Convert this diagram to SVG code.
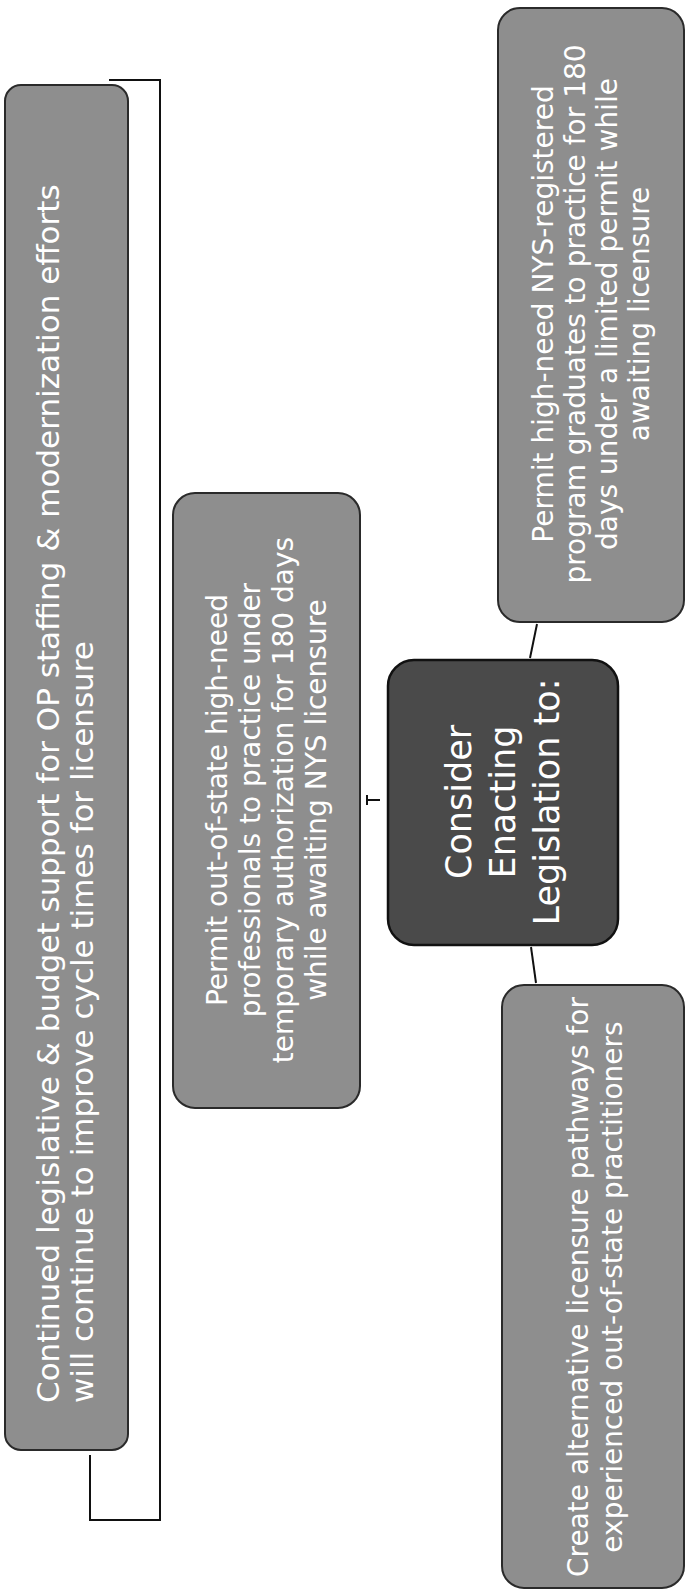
<svg xmlns="http://www.w3.org/2000/svg" width="685" height="1591" viewBox="0 0 685 1591">
<style>
.box{fill:#8e8e8e;stroke:#2a2a2a;stroke-width:2}
.dark{fill:#4a4a4a;stroke:#111;stroke-width:2.5}
.t{font-family:"DejaVu Sans",Verdana,sans-serif;fill:#fff;dominant-baseline:central}
.c{text-anchor:middle}
.conn{fill:none;stroke:#111;stroke-width:2}
</style>
<rect width="685" height="1591" fill="#fff"/>
<g id="connectors">
<path class="conn" d="M109,80 H160 V1520 H90 V1455"/>
<line class="conn" x1="537" y1="624" x2="530" y2="658"/>
<line class="conn" x1="531" y1="947" x2="536" y2="983"/>
<line class="conn" x1="367" y1="800" x2="380" y2="800"/>
<line class="conn" x1="367" y1="795" x2="367" y2="805"/>
</g>
<g id="node-left">
<rect class="box" x="5" y="85" width="123" height="1365" rx="16"/>
<text class="t" font-size="31" transform="translate(65,1403) rotate(-90)"><tspan x="0" y="-17">Continued legislative &amp; budget support for OP staffing &amp; modernization efforts</tspan><tspan x="0" y="17">will continue to improve cycle times for licensure</tspan></text>
</g>
<g id="node-middle">
<rect class="box" x="173" y="493" width="187" height="615" rx="22"/>
<text class="t c" font-size="28" transform="translate(266,800) rotate(-90)"><tspan x="0" y="-49">Permit out-of-state high-need</tspan><tspan x="0" y="-16">professionals to practice under</tspan><tspan x="0" y="17">temporary authorization for 180 days</tspan><tspan x="0" y="50">while awaiting NYS licensure</tspan></text>
</g>
<g id="node-center">
<rect class="dark" x="388" y="660" width="230" height="285" rx="26"/>
<text class="t c" font-size="35" transform="translate(503,802) rotate(-90)"><tspan x="0" y="-44">Consider</tspan><tspan x="0" y="0">Enacting</tspan><tspan x="0" y="44">Legislation to:</tspan></text>
</g>
<g id="node-top-right">
<rect class="box" x="498" y="8" width="186" height="614" rx="22"/>
<text class="t c" font-size="28" transform="translate(591,314) rotate(-90)"><tspan x="0" y="-48">Permit high-need NYS-registered</tspan><tspan x="0" y="-16">program graduates to practice for 180</tspan><tspan x="0" y="16">days under a limited permit while</tspan><tspan x="0" y="48">awaiting licensure</tspan></text>
</g>
<g id="node-bottom-right">
<rect class="box" x="502" y="985" width="182" height="603" rx="22"/>
<text class="t c" font-size="28" transform="translate(595,1287) rotate(-90)"><tspan x="0" y="-17">Create alternative licensure pathways for</tspan><tspan x="0" y="17">experienced out-of-state practitioners</tspan></text>
</g>
</svg>
